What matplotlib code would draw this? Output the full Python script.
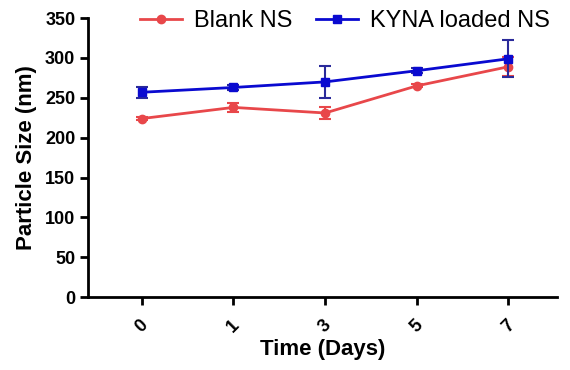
import matplotlib.pyplot as plt
from matplotlib.lines import Line2D
import numpy as np

plt.rcParams['font.family'] = ['Liberation Sans', 'DejaVu Sans']

days = ['0', '1', '3', '5', '7']
blank_ns = [224, 238, 231, 265, 289]
blank_err = [2, 6, 7, 2, 12]
kyna_ns = [257, 263, 270, 284, 299]
kyna_err = [7, 3, 20, 3, 23]

red = '#e8474a'
blue = '#0a0ad0'

x = np.arange(len(days))

fig = plt.figure(figsize=(5.7, 3.7), dpi=100)
ax = fig.add_axes([0.154, 0.197, 0.823, 0.754])

ax.errorbar(x, blank_ns, yerr=blank_err, color=red, marker='o', markersize=6,
            linewidth=2, capsize=4, elinewidth=1.5, capthick=1.5,
            clip_on=False, zorder=3)
ax.errorbar(x, kyna_ns, yerr=kyna_err, color=blue, marker='s', markersize=6,
            linewidth=2, capsize=4, elinewidth=1.5, capthick=1.5,
            ecolor='#2a2a9a', clip_on=False, zorder=4)

ax.set_xlim(-0.59, 4.53)
ax.set_ylim(0, 350)
ax.set_yticks(np.arange(0, 351, 50))
ax.set_xticks(x)
ax.set_xticklabels(days, rotation=45)

for s in ['top', 'right']:
    ax.spines[s].set_visible(False)
for s in ['left', 'bottom']:
    ax.spines[s].set_linewidth(2)
ax.tick_params(width=2, length=6, labelsize=13, pad=3)
ax.tick_params(axis='x', pad=8)
for lab in ax.get_xticklabels() + ax.get_yticklabels():
    lab.set_fontweight('bold')

ax.set_ylabel('Particle Size (nm)', fontsize=16, fontweight='bold', labelpad=6)
ax.set_xlabel('Time (Days)', fontsize=16, fontweight='bold', labelpad=2)

handles = [Line2D([], [], color=red, marker='o', markersize=6, linewidth=2),
           Line2D([], [], color=blue, marker='s', markersize=6, linewidth=2)]
fig.legend(handles, ['Blank NS', 'KYNA loaded NS'], loc='upper center',
           bbox_to_anchor=(0.605, 1.03), ncol=2, frameon=False, fontsize=17,
           handlelength=1.8, columnspacing=1.0, handletextpad=0.5)

fig.savefig('out.png', dpi=100)
